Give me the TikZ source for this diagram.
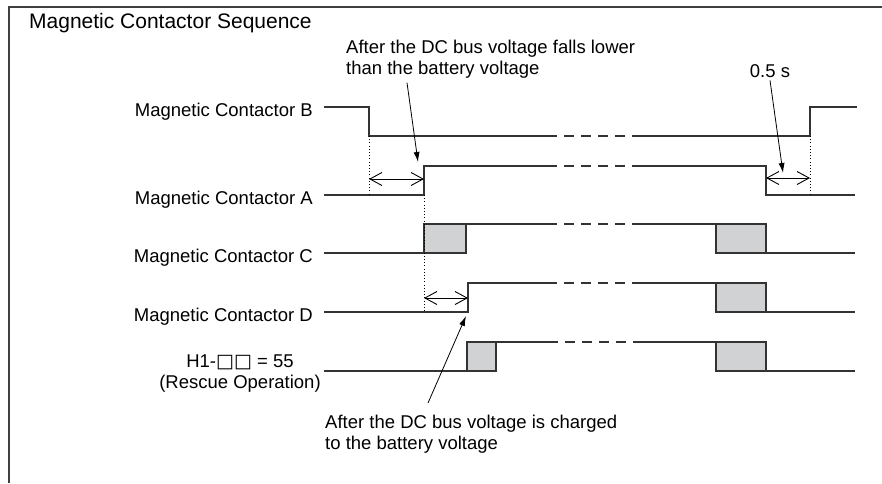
\documentclass[tikz,border=0pt]{standalone}
\usepackage{fontspec}
\setmainfont{Liberation Sans}
\newfontfamily\symfont{DejaVu Sans}
\usetikzlibrary{arrows.meta, positioning}
\definecolor{wavegray}{HTML}{333333}
\definecolor{boxgray}{HTML}{D1D2D4}
\definecolor{framegray}{HTML}{404040}

\begin{document}
\begin{tikzpicture}[
    x=1pt, y=-1pt,
    wave/.style={draw=wavegray, line width=1.3pt},
    gap/.style={draw=wavegray, line width=1.3pt, dash pattern=on 10pt off 7pt},
    pulse/.style={draw=wavegray, fill=boxgray, line width=1.3pt},
    guide/.style={draw=black, line width=0.8pt, dash pattern=on 0.8pt off 2.4pt},
    span/.style={{Straight Barb[length=12pt,width=13pt]}-{Straight Barb[length=12pt,width=13pt]},
                 line width=0.9pt},
    callout/.style={-{Latex[length=10pt,width=6pt]}, line width=0.8pt},
    sig/.style={anchor=base east, inner sep=0pt, font=\fontsize{18.5}{21}\selectfont},
    note/.style={anchor=north west, inner sep=0pt, align=left, font=\fontsize{18.5}{21}\selectfont}
]
\useasboundingbox (0,0) rectangle (882,483);

% Frame and title
\draw[framegray, line width=2pt] (9,483) -- (9,7) -- (882,7);
\node[anchor=base west, inner sep=0pt, font=\fontsize{21}{25}\selectfont] (title) at (29,28)
    {Magnetic Contactor Sequence};

% Signal names
\node[sig] (lbl-b) at (313,116) {Magnetic Contactor B};
\node[sig] (lbl-a) at (313,204) {Magnetic Contactor A};
\node[sig] (lbl-c) at (313,262) {Magnetic Contactor C};
\node[sig] (lbl-d) at (313,321) {Magnetic Contactor D};
\node[anchor=north, inner sep=0pt, align=center, font=\fontsize{18.5}{21}\selectfont] (lbl-h)
    at (240,355) {H1-{\symfont\fontsize{19}{21}\selectfont □□} = 55\\(Rescue Operation)};

% Contactor B
\draw[wave] (324,107) -- (369,107) -- (369,136) -- (547,136);
\draw[gap] (547,136) -- (642,136);
\draw[wave] (642,136) -- (810,136) -- (810,107) -- (857,107);

% Contactor A
\draw[wave] (324,195) -- (424,195) -- (424,166) -- (547,166);
\draw[gap] (547,166) -- (642,166);
\draw[wave] (642,166) -- (766,166) -- (766,195) -- (855,195);

% Contactor C
\draw[wave] (324,253) -- (424,253);
\draw[pulse] (424,224) rectangle (466,253);
\draw[wave] (466,224) -- (547,224);
\draw[gap] (547,224) -- (642,224);
\draw[wave] (642,224) -- (716,224);
\draw[pulse] (716,224) rectangle (766,253);
\draw[wave] (766,253) -- (855,253);

% Contactor D
\draw[wave] (324,312) -- (468,312) -- (468,283) -- (547,283);
\draw[gap] (547,283) -- (642,283);
\draw[wave] (642,283) -- (716,283);
\draw[pulse] (716,283) rectangle (766,312);
\draw[wave] (766,312) -- (855,312);

% Rescue operation
\draw[wave] (324,371) -- (467,371);
\draw[pulse] (467,342) rectangle (496,371);
\draw[wave] (496,342) -- (548,342);
\draw[gap] (548,342) -- (640,342);
\draw[wave] (640,342) -- (716,342);
\draw[pulse] (716,342) rectangle (766,371);
\draw[wave] (766,371) -- (855,371);

% Timing guides
\draw[guide] (369,136) -- (369,195);
\draw[guide] (424,195) -- (424,313);
\draw[guide] (810,136) -- (810,195);
\draw[span] (369,179) -- (424,179);
\draw[span] (766,178) -- (810,178);
\draw[span] (424,298) -- (468,298);

% Notes
\node[note] (fall-note) at (346,40) {After the DC bus voltage falls lower\\than the battery voltage};
\node[anchor=base, inner sep=0pt, font=\fontsize{18.5}{21}\selectfont] (delay-note) at (770,77) {0.5 s};
\node[note] (charge-note) at (325,415) {After the DC bus voltage is charged\\to the battery voltage};

\coordinate (fall-tip) at (418,162);
\coordinate (delay-tip) at (783,173);
\coordinate (charge-tip) at (466,316);
\draw[callout] (fall-note.south west) ++(61,4) -- (fall-tip);
\draw[callout] (delay-note.south) ++(0,3) -- (delay-tip);
\draw[callout] (charge-note.north west) ++(103,-12) -- (charge-tip);

\end{tikzpicture}
\end{document}
